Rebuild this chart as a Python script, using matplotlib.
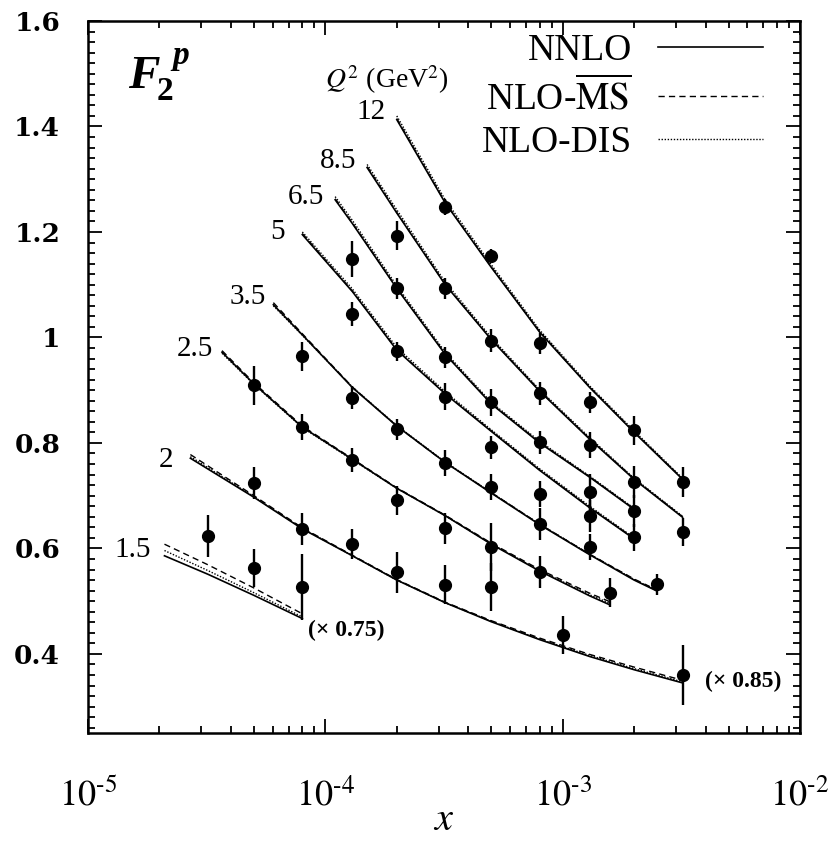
import math
import matplotlib
matplotlib.use("Agg")
import matplotlib.pyplot as plt
from matplotlib.lines import Line2D
from matplotlib.ticker import MultipleLocator, FixedLocator, LogLocator, NullFormatter, FuncFormatter

plt.rcParams['font.family'] = 'Liberation Serif'
plt.rcParams['mathtext.fontset'] = 'stix'

# Theoriekurven je Q^2 (NNLO, NLO-MSbar, NLO-DIS)
x_q15 = [2.1e-5, 3.2e-5, 5e-5, 8e-5]
nnlo_q15 = [0.586, 0.551, 0.511, 0.467]
msbar_q15 = [0.608, 0.569, 0.525, 0.476]
dis_q15 = [0.596, 0.558, 0.516, 0.470]

x_q2 = [2.7e-5, 5e-5, 8e-5, 1.3e-4, 2e-4, 3.2e-4, 5e-4, 8e-4, 1.3e-3, 2e-3, 3.2e-3]
nnlo_q2 = [0.771, 0.697, 0.637, 0.586, 0.540, 0.497, 0.461, 0.427, 0.395, 0.370, 0.345]
msbar_q2 = [0.778, 0.700, 0.639, 0.587, 0.541, 0.498, 0.463, 0.430, 0.399, 0.375, 0.350]
dis_q2 = [0.774, 0.698, 0.638, 0.586, 0.540, 0.497, 0.462, 0.428, 0.397, 0.372, 0.347]

x_q25 = [3.67e-5, 5e-5, 8e-5, 1.3e-4, 2e-4, 3.2e-4, 5e-4, 8e-4, 1.3e-3, 1.58e-3]
nnlo_q25 = [0.972, 0.912, 0.830, 0.769, 0.714, 0.662, 0.608, 0.557, 0.510, 0.493]
msbar_q25 = [0.975, 0.914, 0.832, 0.770, 0.715, 0.663, 0.610, 0.560, 0.515, 0.499]
dis_q25 = [0.970, 0.911, 0.829, 0.768, 0.714, 0.662, 0.609, 0.558, 0.512, 0.496]

x_q35 = [6.04e-5, 8e-5, 1.3e-4, 2e-4, 3.2e-4, 5e-4, 8e-4, 1.3e-3, 2e-3, 2.5e-3]
nnlo_q35 = [1.062, 1.005, 0.905, 0.832, 0.763, 0.705, 0.645, 0.588, 0.540, 0.519]
msbar_q35 = [1.066, 1.007, 0.906, 0.832, 0.763, 0.706, 0.646, 0.589, 0.542, 0.521]
dis_q35 = [1.060, 1.004, 0.906, 0.833, 0.764, 0.706, 0.646, 0.589, 0.541, 0.520]

x_q5 = [8e-5, 1.3e-4, 2e-4, 3.2e-4, 5e-4, 8e-4, 1.3e-3, 2e-3]
nnlo_q5 = [1.195, 1.087, 0.976, 0.893, 0.822, 0.748, 0.677, 0.618]
msbar_q5 = [1.197, 1.088, 0.977, 0.894, 0.823, 0.749, 0.678, 0.619]
dis_q5 = [1.200, 1.092, 0.981, 0.897, 0.825, 0.751, 0.680, 0.620]

x_q65 = [1.1e-4, 1.3e-4, 2e-4, 3.2e-4, 5e-4, 8e-4, 1.3e-3, 2e-3]
nnlo_q65 = [1.261, 1.216, 1.093, 0.968, 0.874, 0.800, 0.735, 0.674]
msbar_q65 = [1.263, 1.217, 1.094, 0.969, 0.875, 0.801, 0.736, 0.675]
dis_q65 = [1.267, 1.222, 1.098, 0.972, 0.877, 0.803, 0.737, 0.676]

x_q85 = [1.5e-4, 2e-4, 3.2e-4, 5e-4, 8e-4, 1.3e-3, 2e-3, 3.2e-3]
nnlo_q85 = [1.322, 1.236, 1.100, 0.996, 0.898, 0.807, 0.731, 0.659]
msbar_q85 = [1.324, 1.237, 1.101, 0.997, 0.899, 0.808, 0.732, 0.660]
dis_q85 = [1.328, 1.242, 1.105, 1.000, 0.901, 0.810, 0.733, 0.661]

x_q12 = [2e-4, 3.2e-4, 5e-4, 8e-4, 1.3e-3, 2e-3, 3.2e-3]
nnlo_q12 = [1.413, 1.255, 1.133, 1.010, 0.905, 0.820, 0.731]
msbar_q12 = [1.415, 1.256, 1.134, 1.011, 0.906, 0.821, 0.732]
dis_q12 = [1.420, 1.261, 1.138, 1.014, 0.908, 0.823, 0.733]

# Messpunkte
data_x = [3.2e-5,
          5e-5, 5e-5, 5e-5,
          8e-5, 8e-5, 8e-5, 8e-5,
          1.3e-4, 1.3e-4, 1.3e-4, 1.3e-4, 1.3e-4,
          2e-4, 2e-4, 2e-4, 2e-4, 2e-4, 2e-4,
          3.2e-4, 3.2e-4, 3.2e-4, 3.2e-4, 3.2e-4, 3.2e-4, 3.2e-4,
          5e-4, 5e-4, 5e-4, 5e-4, 5e-4, 5e-4, 5e-4,
          8e-4, 8e-4, 8e-4, 8e-4, 8e-4, 8e-4,
          1e-3,
          1.3e-3, 1.3e-3, 1.3e-3, 1.3e-3, 1.3e-3,
          1.58e-3,
          2e-3, 2e-3, 2e-3, 2e-3,
          2.5e-3,
          3.2e-3, 3.2e-3, 3.2e-3]
data_y = [0.623,
          0.909, 0.724, 0.563,
          0.964, 0.830, 0.637, 0.527,
          1.148, 1.044, 0.886, 0.767, 0.608,
          1.193, 1.093, 0.974, 0.826, 0.691, 0.555,
          1.248, 1.093, 0.962, 0.888, 0.762, 0.638, 0.531,
          1.155, 0.994, 0.877, 0.792, 0.716, 0.603, 0.527,
          0.989, 0.894, 0.801, 0.703, 0.646, 0.555,
          0.436,
          0.877, 0.796, 0.707, 0.661, 0.603,
          0.516,
          0.824, 0.726, 0.671, 0.621,
          0.532,
          0.726, 0.631, 0.360]
data_err = [0.040,
            0.037, 0.030, 0.036,
            0.028, 0.025, 0.030, 0.063,
            0.034, 0.023, 0.021, 0.023, 0.029,
            0.028, 0.020, 0.018, 0.020, 0.028, 0.039,
            0.015, 0.020, 0.020, 0.025, 0.025, 0.030, 0.037,
            0.012, 0.022, 0.025, 0.022, 0.025, 0.045, 0.045,
            0.020, 0.022, 0.022, 0.025, 0.030, 0.030,
            0.036,
            0.020, 0.025, 0.035, 0.030, 0.025,
            0.028,
            0.027, 0.030, 0.030, 0.025,
            0.020,
            0.028, 0.027, 0.057]

q2_labels = ["1.5", "2", "2.5", "3.5", "5", "6.5", "8.5", "12"]
q2_label_x = [1.55e-5, 2.13e-5, 2.83e-5, 4.73e-5, 6.3e-5, 8.3e-5, 1.13e-4, 1.55e-4]
q2_label_y = [0.597, 0.767, 0.979, 1.076, 1.199, 1.267, 1.335, 1.428]

kurven = [
    (x_q15, nnlo_q15, msbar_q15, dis_q15),
    (x_q2, nnlo_q2, msbar_q2, dis_q2),
    (x_q25, nnlo_q25, msbar_q25, dis_q25),
    (x_q35, nnlo_q35, msbar_q35, dis_q35),
    (x_q5, nnlo_q5, msbar_q5, dis_q5),
    (x_q65, nnlo_q65, msbar_q65, dis_q65),
    (x_q85, nnlo_q85, msbar_q85, dis_q85),
    (x_q12, nnlo_q12, msbar_q12, dis_q12),
]

stil_nnlo = dict(color='black', lw=1.2, linestyle='-')
stil_msbar = dict(color='black', lw=1.0, linestyle=(0, (4.5, 3)))
stil_dis = dict(color='black', lw=1.0, linestyle=(0, (1, 1.2)))

fig = plt.figure(figsize=(8.34, 8.42), dpi=100)
ax = fig.add_axes([88 / 834, 1 - 733 / 842, 712 / 834, 712 / 842])

for xs, a, b, c in kurven:
    ax.plot(xs, c, **stil_dis)
    ax.plot(xs, b, **stil_msbar)
    ax.plot(xs, a, **stil_nnlo)

ax.errorbar(data_x, data_y, yerr=data_err, fmt='o', color='black', ms=8.5,
            elinewidth=1.7, capsize=0)

for lab, lx, ly in zip(q2_labels, q2_label_x, q2_label_y):
    ax.text(lx, ly, lab, fontsize=21, ha='center', va='center')

ax.text(1.23e-4, 0.445, "(\u00d7 0.75)", fontsize=17, fontweight='bold', ha='center', va='center')
ax.text(5.75e-3, 0.347, "(\u00d7 0.85)", fontsize=17, fontweight='bold', ha='center', va='center')

# F_2^p und Q^2 Beschriftung
ax.text(0.056, 0.906, "F", transform=ax.transAxes, fontsize=34, fontweight='bold', style='italic')
ax.text(0.097, 0.889, "2", transform=ax.transAxes, fontsize=24, fontweight='bold')
ax.text(0.118, 0.94, "p", transform=ax.transAxes, fontsize=24, fontweight='bold', style='italic')
ax.text(0.333, 0.906, r"$Q^2$ (GeV$^2$)", transform=ax.transAxes, fontsize=20)

# Legende
handles = [Line2D([], [], **stil_nnlo), Line2D([], [], **stil_msbar), Line2D([], [], **stil_dis)]
labels = ["NNLO", r"NLO-$\overline{\mathrm{MS}}$", "NLO-DIS"]
ax.legend(handles, labels, loc='upper right', bbox_to_anchor=(0.948, 0.982), frameon=False,
          markerfirst=False, fontsize=27, handlelength=2.8, handletextpad=0.7,
          labelspacing=0.22, borderaxespad=0, borderpad=0)

ax.set_xscale('log')
ax.set_xlim(1e-5, 1e-2)
ax.set_ylim(0.25, 1.6)

ax.xaxis.set_major_locator(FixedLocator([1e-5, 1e-4, 1e-3, 1e-2]))
ax.xaxis.set_minor_locator(LogLocator(base=10, subs=[2, 3, 4, 5, 6, 7, 8, 9]))
ax.xaxis.set_minor_formatter(NullFormatter())
ax.xaxis.set_major_formatter(FuncFormatter(lambda v, p: "$10^{\u2010%d}$" % abs(round(math.log10(v)))))

ax.yaxis.set_major_locator(MultipleLocator(0.2))
ax.yaxis.set_minor_locator(MultipleLocator(0.02))
ax.yaxis.set_major_formatter(FuncFormatter(lambda v, p: "%g" % round(v, 2)))

ax.tick_params(which='both', direction='in', top=True, right=True, width=1.3)
ax.tick_params(which='major', length=10)
ax.tick_params(which='minor', length=5)
ax.tick_params(axis='x', which='major', labelsize=26, pad=33)
ax.tick_params(axis='y', which='major', pad=20)
for t in ax.get_yticklabels():
    t.set_family('DejaVu Serif')
    t.set_fontweight('bold')
    t.set_fontsize(19)

for s in ax.spines.values():
    s.set_linewidth(1.8)

ax.set_xlabel(r"$x$", fontsize=29, labelpad=-9)

fig.savefig("out.png", dpi=100)
